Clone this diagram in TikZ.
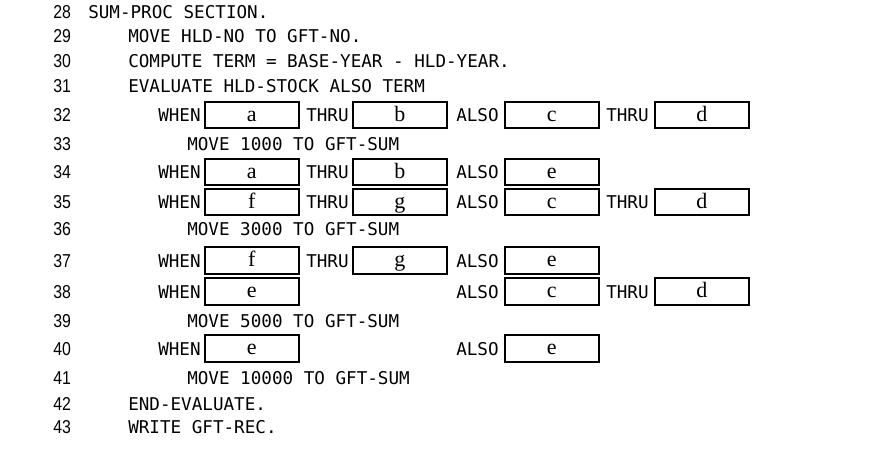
\documentclass[tikz,border=0pt]{standalone}
\usepackage{fontspec}
\setmonofont{DejaVu Sans Mono}
\newfontfamily\linenofont[FakeStretch=0.85]{Liberation Sans}
\newfontfamily\slotfont{Liberation Serif}
\usepackage{tikz}
\usetikzlibrary{positioning}
\tikzstyle{lineno} = [anchor=base west, inner sep=0pt, font=\linenofont\fontsize{14}{14}\selectfont]
\tikzstyle{stmt} = [anchor=base west, inner sep=0pt, font=\ttfamily\fontsize{13.2}{13}\selectfont]
\tikzstyle{slot} = [
    rectangle,                 % Shape
    draw=black,                % Border color
    line width=1.3pt,          % Heavy border
    anchor=west,               % Placed by left edge
    minimum width=70.5pt,      % Width
    minimum height=20pt,       % Height
    inner sep=0pt,
    text height=9pt,           % Same baseline for every letter
    text depth=0pt,
    font=\slotfont\fontsize{16.5}{16}\selectfont
]

\begin{document}
\begin{tikzpicture}[x=0.75pt, y=-0.75pt]
		\useasboundingbox (0,0) rectangle (874,462);

		% Line numbers
		\node[lineno] (n28) at (53,18.5) {28};
		\node[lineno] (n29) at (53,42) {29};
		\node[lineno] (n30) at (53,67) {30};
		\node[lineno] (n31) at (53,92) {31};
		\node[lineno] (n32) at (53,121.5) {32};
		\node[lineno] (n33) at (53,150) {33};
		\node[lineno] (n34) at (53,178.5) {34};
		\node[lineno] (n35) at (53,208.5) {35};
		\node[lineno] (n36) at (53,235.5) {36};
		\node[lineno] (n37) at (53,267) {37};
		\node[lineno] (n38) at (53,298) {38};
		\node[lineno] (n39) at (53,327) {39};
		\node[lineno] (n40) at (53,355) {40};
		\node[lineno] (n41) at (53,384) {41};
		\node[lineno] (n42) at (53,410) {42};
		\node[lineno] (n43) at (53,433.5) {43};

		% Plain statements
		\node[stmt] (s28) at (88,18.5) {SUM-PROC SECTION.};
		\node[stmt] (s29) at (128,42) {MOVE HLD-NO TO GFT-NO.};
		\node[stmt] (s30) at (128,67) {COMPUTE TERM = BASE-YEAR - HLD-YEAR.};
		\node[stmt] (s31) at (128,92) {EVALUATE HLD-STOCK ALSO TERM};
		\node[stmt] (s33) at (187,150) {MOVE 1000 TO GFT-SUM};
		\node[stmt] (s36) at (187,235.5) {MOVE 3000 TO GFT-SUM};
		\node[stmt] (s39) at (187,327) {MOVE 5000 TO GFT-SUM};
		\node[stmt] (s41) at (187,384) {MOVE 10000 TO GFT-SUM};
		\node[stmt] (s42) at (128,410) {END-EVALUATE.};
		\node[stmt] (s43) at (128,433.5) {WRITE GFT-REC.};

		% WHEN line 32
		\node[stmt] (when32) at (158,121.5) {WHEN};
		\node[slot] (a32) at (204,115) {a};
		\node[stmt] (thru32) at (306,121.5) {THRU};
		\node[slot] (b32) at (352,115) {b};
		\node[stmt] (also32) at (456,121.5) {ALSO};
		\node[slot] (c32) at (504,115) {c};
		\node[stmt] (to32) at (606,121.5) {THRU};
		\node[slot] (d32) at (654,115) {d};

		% WHEN line 34
		\node[stmt] (when34) at (158,178.5) {WHEN};
		\node[slot] (a34) at (204,172) {a};
		\node[stmt] (thru34) at (306,178.5) {THRU};
		\node[slot] (b34) at (352,172) {b};
		\node[stmt] (also34) at (456,178.5) {ALSO};
		\node[slot] (e34) at (504,172) {e};

		% WHEN line 35
		\node[stmt] (when35) at (158,208.5) {WHEN};
		\node[slot] (f35) at (204,202) {f};
		\node[stmt] (thru35) at (306,208.5) {THRU};
		\node[slot] (g35) at (352,202) {g};
		\node[stmt] (also35) at (456,208.5) {ALSO};
		\node[slot] (c35) at (504,202) {c};
		\node[stmt] (to35) at (606,208.5) {THRU};
		\node[slot] (d35) at (654,202) {d};

		% WHEN line 37
		\node[stmt] (when37) at (158,267) {WHEN};
		\node[slot] (f37) at (204,260.5) {f};
		\node[stmt] (thru37) at (306,267) {THRU};
		\node[slot] (g37) at (352,260.5) {g};
		\node[stmt] (also37) at (456,267) {ALSO};
		\node[slot] (e37) at (504,260.5) {e};

		% WHEN line 38
		\node[stmt] (when38) at (158,298) {WHEN};
		\node[slot] (e38) at (204,291.5) {e};
		\node[stmt] (also38) at (456,298) {ALSO};
		\node[slot] (c38) at (504,291.5) {c};
		\node[stmt] (to38) at (606,298) {THRU};
		\node[slot] (d38) at (654,291.5) {d};

		% WHEN line 40
		\node[stmt] (when40) at (158,355) {WHEN};
		\node[slot] (e40) at (204,348.5) {e};
		\node[stmt] (also40) at (456,355) {ALSO};
		\node[slot] (e40b) at (504,348.5) {e};
	\end{tikzpicture}
\end{document}
